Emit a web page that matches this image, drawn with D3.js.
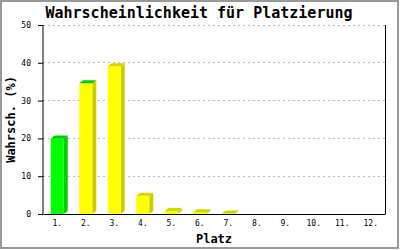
<!DOCTYPE html>
<html>
<head>
<meta charset="utf-8">
<script src="https://cdn.jsdelivr.net/npm/d3@7"></script>
<style>
  html, body { margin: 0; padding: 0; background: #fff; }
  svg text { font-family: "DejaVu Sans Mono", "Liberation Mono", monospace; fill: #000; }
</style>
</head>
<body>
<svg id="chart" width="400" height="250"></svg>
<script>
// Chart data
const places = ["1.", "2.", "3.", "4.", "5.", "6.", "7.", "8.", "9.", "10.", "11.", "12."];
const yellowValues = [null, 34.6, 39.1, 4.8, 0.8, 0.45, 0.15, null, null, null, null, null];
const greenValues = [20, 0, null, null, null, null, null, null, null, null, null, null];
const yTicks = [0, 10, 20, 30, 40, 50];

const svg = d3.select("#chart");

// outer frame
svg.append("rect")
   .attr("x", 1).attr("y", 1)
   .attr("width", 397).attr("height", 247)
   .attr("fill", "#fff")
   .attr("stroke", "#999")
   .attr("stroke-width", 2);

const margin = { top: 25, right: 15, bottom: 36, left: 43 };
const width = 400 - margin.left - margin.right;
const height = 250 - margin.top - margin.bottom;

const x = d3.scaleBand()
            .domain(places)
            .range([0, width]);

const y = d3.scaleLinear()
            .domain([0, 50])
            .range([height, 0]);

const g = svg.append("g")
             .attr("transform", `translate(${margin.left},${margin.top})`);

// dashed grid lines
g.selectAll(".grid")
 .data(yTicks.filter(d => d > 0))
 .enter().append("line")
 .attr("x1", 0).attr("x2", width)
 .attr("y1", d => y(d)).attr("y2", d => y(d))
 .attr("stroke", "#bbb")
 .attr("stroke-dasharray", "2,3")
 .attr("shape-rendering", "crispEdges");

// right frame line
g.append("line")
 .attr("x1", width).attr("x2", width)
 .attr("y1", 0).attr("y2", height)
 .attr("stroke", "#000")
 .attr("shape-rendering", "crispEdges");

// 3D bars: yellow below, green stacked on top
const depthX = 4, depthY = 3;
const barW = 13;
const colors = {
    yellow: { front: "#ffff00", side: "#cccc00", top: "#d4d400" },
    green: { front: "#00ff00", side: "#00cc00", top: "#00cc00" }
};

places.forEach((p, i) => {
    const segs = [];
    let base = 0;
    if (yellowValues[i] != null) {
        segs.push({ c: colors.yellow, y0: base, y1: base + yellowValues[i] });
        base += yellowValues[i];
    }
    if (greenValues[i] != null) {
        segs.push({ c: colors.green, y0: base, y1: base + greenValues[i] });
        base += greenValues[i];
    }
    if (!segs.length) return;

    const x0 = x(p) + (x.bandwidth() - barW) / 2;
    const bar = g.append("g");
    segs.forEach(s => {
        const yt = y(s.y1), yb = y(s.y0);
        if (yb - yt > 0) {
            bar.append("polygon")
               .attr("points", [[x0 + barW, yb], [x0 + barW + depthX, yb - depthY],
                                [x0 + barW + depthX, yt - depthY], [x0 + barW, yt]].join(" "))
               .attr("fill", s.c.side);
            bar.append("rect")
               .attr("x", x0).attr("y", yt)
               .attr("width", barW).attr("height", yb - yt)
               .attr("fill", s.c.front);
        }
    });
    const top = segs[segs.length - 1];
    const yt = y(top.y1);
    bar.append("polygon")
       .attr("points", [[x0, yt], [x0 + depthX, yt - depthY],
                        [x0 + barW + depthX, yt - depthY], [x0 + barW, yt]].join(" "))
       .attr("fill", top.c.top);
});

// Y Axis
const yAxis = g.append("g")
 .call(d3.axisLeft(y).tickValues(yTicks).tickSize(5).tickPadding(7).tickFormat(d3.format("d")));
yAxis.select(".domain").attr("stroke", "#000").attr("d", `M0,0V${height}`);
yAxis.selectAll("text").style("font-size", "8px");

// X Axis
const xAxis = g.append("g")
 .attr("transform", `translate(0,${height})`)
 .call(d3.axisBottom(x).tickSize(0).tickPadding(6));
xAxis.select(".domain").attr("stroke", "#000");
xAxis.selectAll("text").style("font-size", "8px");

// titles
svg.append("text")
   .attr("x", 199).attr("y", 18)
   .attr("text-anchor", "middle")
   .style("font-size", "15px").style("font-weight", "bold")
   .text("Wahrscheinlichkeit für Platzierung");

svg.append("text")
   .attr("x", margin.left + width / 2).attr("y", 243)
   .attr("text-anchor", "middle")
   .style("font-size", "12px").style("font-weight", "bold")
   .text("Platz");

svg.append("text")
   .attr("transform", `translate(15,${margin.top + height / 2}) rotate(-90)`)
   .attr("text-anchor", "middle")
   .style("font-size", "12px").style("font-weight", "bold")
   .text("Wahrsch. (%)");
</script>
</body>
</html>
